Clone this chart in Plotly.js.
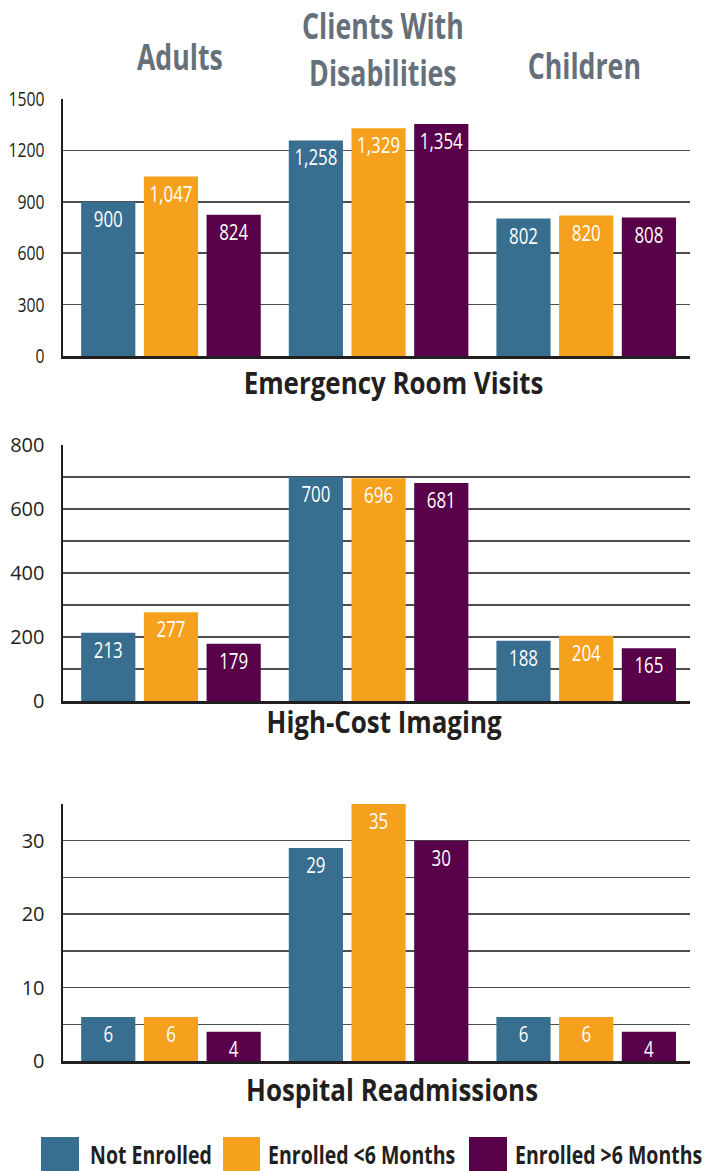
<!DOCTYPE html>
<html>
<head>
<meta charset="utf-8">
<script src="https://cdn.plot.ly/plotly-3.0.1.min.js"></script>
<style>
  html, body { margin: 0; padding: 0; background: #ffffff; }
  #chart { width: 716px; height: 1171px; }
</style>
</head>
<body>
<div id="chart"></div>
<script>
// ---------- data ----------
const categories = ["Adults", "Clients With Disabilities", "Children"];
const headerLabels = ["Adults", "Clients With<br>Disabilities", "Children"];
const seriesNames = ["Not Enrolled", "Enrolled <6 Months", "Enrolled >6 Months"];
const seriesColors = ["#386E8F", "#F6A11E", "#58004A"];

const panelTitles = ["Emergency Room Visits", "High-Cost Imaging", "Hospital Readmissions"];

// Emergency Room Visits
const erNotEnrolled = [900, 1258, 802];
const erUnder6 = [1047, 1329, 820];
const erOver6 = [824, 1354, 808];

// High-Cost Imaging
const imgNotEnrolled = [213, 700, 188];
const imgUnder6 = [277, 696, 204];
const imgOver6 = [179, 681, 165];

// Hospital Readmissions
const readmNotEnrolled = [6, 29, 6];
const readmUnder6 = [6, 35, 6];
const readmOver6 = [4, 30, 4];

// axis ticks
const erTickVals = [0, 300, 600, 900, 1200, 1500];
const erTickText = ["0", "300", "600", "900", "1200", "1500"];
const imgTickVals = [0, 100, 200, 300, 400, 500, 600, 700, 800];
const imgTickText = ["0", "", "200", "", "400", "", "600", "", "800"];
const readmTickVals = [0, 5, 10, 15, 20, 25, 30, 35];
const readmTickText = ["0", "", "10", "", "20", "", "30", ""];

const panels = [
  { series: [erNotEnrolled, erUnder6, erOver6], range: [0, 1500], tv: erTickVals, tt: erTickText },
  { series: [imgNotEnrolled, imgUnder6, imgOver6], range: [0, 800], tv: imgTickVals, tt: imgTickText },
  { series: [readmNotEnrolled, readmUnder6, readmOver6], range: [0, 35], tv: readmTickVals, tt: readmTickText }
];

// ---------- layout helpers ----------
const W = 716, H = 1171;
const px = x => x / W;
const py = y => 1 - y / H;

const FONT = '"Open Sans", "Liberation Sans", sans-serif';
const DARK = "#231F20";

const panelPix = [[99, 356], [445, 701], [804, 1061]];
const titlePix = [[393, 382], [384, 721], [392, 1089]];

const traces = [];
panels.forEach((p, pi) => {
  const xa = pi === 0 ? "x" : "x" + (pi + 1);
  const ya = pi === 0 ? "y" : "y" + (pi + 1);
  p.series.forEach((vals, si) => {
    traces.push({
      type: "bar",
      x: categories,
      y: vals,
      name: seriesNames[si],
      xaxis: xa,
      yaxis: ya,
      marker: { color: seriesColors[si], line: { width: 0 } },
      text: vals.map(v => v.toLocaleString("en-US")),
      textposition: "inside",
      insidetextanchor: "end",
      constraintext: "none",
      textangle: 0,
      textfont: { family: FONT, size: 21, color: "#ffffff" },
      cliponaxis: false,
      showlegend: false,
      hoverinfo: "skip"
    });
  });
});

const layout = {
  width: W,
  height: H,
  margin: { l: 0, r: 0, t: 0, b: 0 },
  paper_bgcolor: "#ffffff",
  plot_bgcolor: "#ffffff",
  barmode: "group",
  bargap: 0.094,
  bargroupgap: 0.136,
  showlegend: false,
  font: { family: FONT, color: DARK },
  annotations: [],
  shapes: []
};

panels.forEach((p, pi) => {
  const sx = pi === 0 ? "" : String(pi + 1);
  const [top, bot] = panelPix[pi];
  layout["xaxis" + sx] = {
    domain: [px(63), px(690)],
    anchor: "y" + sx,
    type: "category",
    range: [-0.52, 2.5],
    showticklabels: false,
    ticks: "",
    showgrid: false,
    showline: true,
    linecolor: DARK,
    linewidth: 3,
    zeroline: false,
    fixedrange: true
  };
  layout["yaxis" + sx] = {
    domain: [py(bot), py(top)],
    anchor: "x" + sx,
    range: p.range,
    tickmode: "array",
    tickvals: p.tv,
    ticktext: p.tt,
    ticks: "",
    ticklabelstandoff: 12,
    tickfont: { family: FONT, size: 20, color: DARK },
    showgrid: true,
    gridcolor: "#4D4D4D",
    gridwidth: 1.5,
    showline: true,
    linecolor: DARK,
    linewidth: 2.5,
    zeroline: false,
    fixedrange: true
  };
});

// panel titles (annotation index 0..2)
panelTitles.forEach((t, pi) => {
  layout.annotations.push({
    text: "<b>" + t + "</b>",
    xref: "paper", yref: "paper",
    x: px(titlePix[pi][0]), y: py(titlePix[pi][1]),
    xanchor: "center", yanchor: "middle",
    showarrow: false,
    font: { family: FONT, size: 30, color: DARK }
  });
});

// category headers (annotation index 3..5)
const headerPix = [[180, 56], [383, 49], [584, 66]];
headerLabels.forEach((lab, i) => {
  layout.annotations.push({
    text: "<b>" + lab + "</b>",
    xref: "paper", yref: "paper",
    x: px(headerPix[i][0]), y: py(headerPix[i][1]),
    xanchor: "center", yanchor: "middle",
    showarrow: false,
    font: { family: FONT, size: 36, color: "#66707A" }
  });
});

// legend built from series names/colours (annotation index 6..8)
const legendPix = [[41, 79, 88], [223, 260, 266], [469, 507, 513]];
seriesNames.forEach((n, i) => {
  const [x0, x1, tx] = legendPix[i];
  layout.shapes.push({
    type: "rect", xref: "paper", yref: "paper",
    x0: px(x0), x1: px(x1), y0: py(1172), y1: py(1137),
    fillcolor: seriesColors[i], line: { width: 0 }
  });
  layout.annotations.push({
    text: "<b>" + n.replace("<", "&lt;").replace(">", "&gt;") + "</b>",
    xref: "paper", yref: "paper",
    x: px(tx), y: py(1154),
    xanchor: "left", yanchor: "middle",
    showarrow: false,
    font: { family: FONT, size: 25, color: DARK }
  });
});

// horizontal condensing of text to mimic a condensed typeface
function squeeze(el, k, anchor) {
  const bb = el.getBBox();
  const cx = anchor === "left" ? bb.x : anchor === "right" ? bb.x + bb.width : bb.x + bb.width / 2;
  const t = el.getAttribute("transform") || "";
  el.setAttribute("transform", t + " translate(" + cx + ",0) scale(" + k + ",1) translate(" + (-cx) + ",0)");
}
function annText(gd, i) {
  return gd.querySelector('.annotation[data-index="' + i + '"] text.annotation-text');
}

Plotly.newPlot("chart", traces, layout, { displayModeBar: false, staticPlot: true }).then(gd => {
  const kT = 300 / annText(gd, 0).getBBox().width;
  [0, 1, 2].forEach(i => squeeze(annText(gd, i), kT, "center"));
  const kH = 86 / annText(gd, 3).getBBox().width;
  [3, 4, 5].forEach(i => squeeze(annText(gd, i), kH, "center"));
  const kL = 122 / annText(gd, 6).getBBox().width;
  [6, 7, 8].forEach(i => squeeze(annText(gd, i), kL, "left"));
  const ticks = Array.from(gd.querySelectorAll(".ytick text"));
  const ref = ticks.find(t => t.textContent === "1500");
  const kY = 36 / ref.getBBox().width;
  ticks.forEach(t => { if (t.textContent) squeeze(t, kY, "right"); });
  const bt = Array.from(gd.querySelectorAll("text.bartext"));
  const refB = bt.find(t => t.textContent === "1,258");
  const kB = 43 / refB.getBBox().width;
  bt.forEach(t => squeeze(t, kB, "center"));
});
</script>
</body>
</html>
